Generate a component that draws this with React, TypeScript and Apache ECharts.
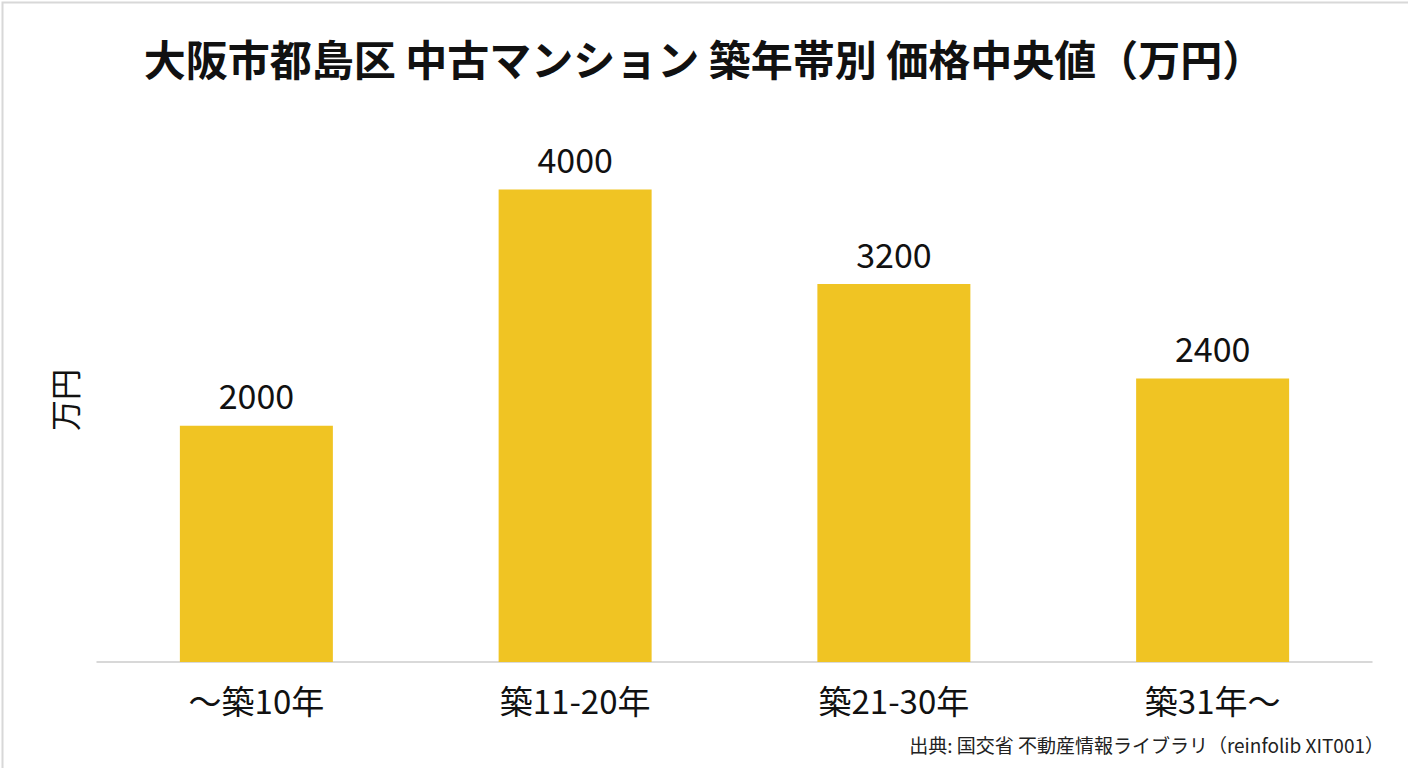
import React, { useEffect, useRef } from "react";
import * as echarts from "echarts";

const categories = ["～築10年", "築11-20年", "築21-30年", "築31年～"];
const medianPrices = [2000, 4000, 3200, 2400];
const titleText = "大阪市都島区 中古マンション 築年帯別 価格中央値（万円）";
const yAxisName = "万円";
const sourceText = "出典: 国交省 不動産情報ライブラリ（reinfolib XIT001）";

const FONT = '"Noto Sans CJK JP", "Noto Sans", sans-serif';

export default function App() {
  const ref = useRef<HTMLDivElement>(null);
  useEffect(() => {
    document.body.style.margin = "0";
    const chart = echarts.init(ref.current!, null, { renderer: "svg" });
    chart.setOption({
      animation: false,
      backgroundColor: "#ffffff",
      textStyle: { fontFamily: FONT },
      title: {
        text: titleText,
        left: "center",
        top: 31,
        textStyle: { fontSize: 42, fontWeight: "bold", color: "#111111", fontFamily: FONT },
      },
      graphic: [
        {
          type: "rect",
          left: 0,
          top: 0,
          shape: { x: 0, y: 0, width: 1407, height: 767 },
          style: { fill: "none", stroke: "#d8d8d8", lineWidth: 2 },
          silent: true,
        },
        {
          type: "text",
          x: 63,
          y: 400,
          rotation: Math.PI / 2,
          style: {
            text: yAxisName,
            x: 0,
            y: 0,
            align: "center",
            verticalAlign: "middle",
            fontSize: 31,
            fill: "#111111",
            fontFamily: FONT,
          },
        },
        {
          type: "text",
          right: 24,
          top: 735,
          style: { text: sourceText, fontSize: 19, fill: "#222222", fontFamily: FONT },
        },
      ],
      grid: { left: 97, right: 36, top: 95, bottom: 106 },
      xAxis: {
        type: "category",
        data: categories,
        axisLine: { lineStyle: { color: "#cccccc", width: 1.5 } },
        axisTick: { show: false },
        axisLabel: { fontSize: 33, color: "#111111", margin: 21, fontFamily: FONT },
      },
      yAxis: {
        type: "value",
        min: 0,
        max: 4800,
        axisLine: { show: false },
        axisTick: { show: false },
        axisLabel: { show: false },
        splitLine: { show: false },
      },
      series: [
        {
          type: "bar",
          data: medianPrices,
          barWidth: "48%",
          itemStyle: { color: "#F0C423" },
          label: {
            show: true,
            position: "top",
            distance: 14,
            fontSize: 34,
            color: "#111111",
            fontFamily: FONT,
          },
        },
      ],
    });
    return () => chart.dispose();
  }, []);
  return <div ref={ref} style={{ width: 1408, height: 768 }} />;
}
